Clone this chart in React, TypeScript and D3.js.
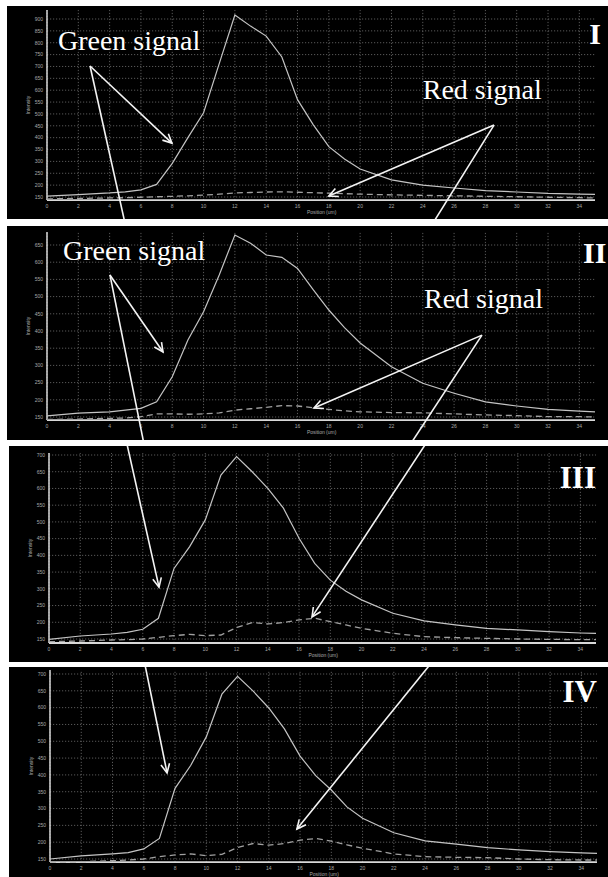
import React from 'react';
import * as d3 from 'd3';

// Shared sample positions (um)
const positions = [0, 2, 4, 5, 6, 7, 8, 9, 10, 11, 12, 13, 14, 15, 16, 17, 18, 19, 20, 22, 24, 26, 28, 30, 32, 34, 35];

// Panel I
const greenI = [154, 160, 167, 172, 180, 203, 292, 400, 505, 712, 917, 870, 828, 740, 560, 455, 362, 310, 268, 222, 200, 188, 177, 171, 165, 162, 161];
const redI = [142, 144, 146, 147, 149, 151, 153, 155, 158, 162, 167, 169, 171, 172, 170, 168, 166, 164, 162, 159, 157, 155, 153, 151, 149, 147, 146];
// Panel II
const greenII = [153, 161, 165, 170, 175, 194, 267, 374, 456, 563, 679, 655, 621, 614, 582, 520, 461, 410, 365, 296, 248, 219, 194, 182, 172, 167, 165];
const redII = [143, 144, 146, 147, 151, 159, 159, 158, 159, 162, 170, 174, 178, 183, 182, 177, 172, 168, 165, 163, 162, 159, 156, 154, 151, 151, 150];
// Panel III
const greenIII = [149, 159, 165, 170, 179, 212, 361, 426, 506, 640, 695, 650, 600, 541, 451, 376, 326, 293, 267, 227, 204, 192, 182, 177, 172, 168, 167];
const redIII = [142, 144, 147, 148, 150, 155, 160, 164, 160, 162, 184, 199, 195, 199, 207, 212, 202, 192, 182, 167, 157, 154, 152, 150, 149, 148, 148];
// Panel IV
const greenIV = [150, 159, 165, 169, 180, 211, 360, 428, 513, 640, 693, 649, 599, 537, 456, 398, 355, 305, 271, 228, 204, 194, 184, 177, 172, 168, 167];
const redIV = [141, 142, 145, 147, 150, 157, 162, 165, 160, 164, 184, 196, 191, 196, 206, 211, 203, 192, 182, 165, 157, 155, 154, 150, 148, 147, 147];

const xTicks = d3.range(0, 35, 2);
const yTicksI = d3.range(150, 901, 50);
const yTicksII = d3.range(150, 651, 50);
const yTicksIII = d3.range(150, 701, 50);
const yTicksIV = d3.range(150, 701, 50);

const panelNames = ['I', 'II', 'III', 'IV'];
const greenText = 'Green signal';
const redText = 'Red signal';
const xTitle = 'Position (um)';
const yTitle = 'Intensity';

// Annotations in data coordinates [position, intensity]
const labelsI = [{ text: greenText, at: [0.7, 769] }, { text: redText, at: [24.0, 563] }];
const labelsII = [{ text: greenText, at: [1.02, 606] }, { text: redText, at: [24.08, 467] }];
const arrowsI = [
  { from: [2.75, 702], to: [7.98, 377], head: true },
  { from: [2.75, 702], to: [4.98, 40], head: false },
  { from: [28.55, 453], to: [18.0, 154], head: true },
  { from: [28.55, 453], to: [24.65, 40], head: false },
];
const arrowsII = [
  { from: [4.02, 563], to: [7.41, 339], head: true },
  { from: [4.02, 563], to: [6.2, 70], head: false },
  { from: [27.78, 388], to: [17.05, 176], head: true },
  { from: [27.78, 388], to: [23.2, 70], head: false },
];
const arrowsIII = [
  { from: [4.93, 745], to: [7.04, 305], head: true },
  { from: [24.27, 745], to: [16.83, 216], head: true },
];
const arrowsIV = [
  { from: [6.08, 727], to: [7.49, 406], head: true },
  { from: [24.3, 727], to: [15.8, 239], head: true },
];

const SERIF = "'Liberation Serif', 'Times New Roman', 'DejaVu Serif', serif";
const SANS = "'Liberation Sans', Arial, 'DejaVu Sans', sans-serif";

const panels = [
  { name: panelNames[0], rect: [7, 6, 608, 219], xr: [47, 595], yd: [150, 900], yr: [197, 19], yMin: 137, yMax: 938,
    yTicks: yTicksI, green: greenI, red: redI, labels: labelsI, arrows: arrowsI, roman: { x: 601, y: 44, size: 30, anchor: 'end' } },
  { name: panelNames[1], rect: [7, 226, 608, 440], xr: [47, 595], yd: [150, 650], yr: [417, 245], yMin: 141, yMax: 688,
    yTicks: yTicksII, green: greenII, red: redII, labels: labelsII, arrows: arrowsII, roman: { x: 583, y: 263, size: 30, anchor: 'start' } },
  { name: panelNames[2], rect: [9, 446, 608, 662], xr: [49, 596], yd: [150, 700], yr: [639, 455], yMin: 138, yMax: 706,
    yTicks: yTicksIII, green: greenIII, red: redIII, labels: [], arrows: arrowsIII, roman: { x: 596, y: 488, size: 31, anchor: 'end' } },
  { name: panelNames[3], rect: [9, 667, 608, 877], xr: [50, 597], yd: [150, 700], yr: [859, 674], yMin: 141, yMax: 712,
    yTicks: yTicksIV, green: greenIV, red: redIV, labels: [], arrows: arrowsIV, roman: { x: 597, y: 702, size: 31, anchor: 'end' } },
];

function Panel({ p, idx }: { p: any; idx: number }) {
  const [rx0, ry0, rx1, ry1] = p.rect;
  const x = d3.scaleLinear().domain([0, 35]).range(p.xr);
  const y = d3.scaleLinear().domain(p.yd).range(p.yr);
  const line = d3.line<number>().x((_, i) => x(positions[i])).y((d) => y(d));
  const yBot = y(p.yMin);
  const yTop = y(p.yMax);
  const clipId = 'clip' + idx;
  const arrowHead = (a: any) => {
    const [fx, fy] = [x(a.from[0]), y(a.from[1])];
    const [tx, ty] = [x(a.to[0]), y(a.to[1])];
    const ang = Math.atan2(ty - fy, tx - fx);
    const L = 10, w = 0.45;
    const p1 = [tx - L * Math.cos(ang - w), ty - L * Math.sin(ang - w)];
    const p2 = [tx - L * Math.cos(ang + w), ty - L * Math.sin(ang + w)];
    return `M${p1[0]},${p1[1]}L${tx},${ty}L${p2[0]},${p2[1]}`;
  };
  return (
    <g>
      <defs>
        <clipPath id={clipId}>
          <rect x={rx0} y={ry0} width={rx1 - rx0} height={ry1 - ry0} />
        </clipPath>
      </defs>
      <rect x={rx0} y={ry0} width={rx1 - rx0} height={ry1 - ry0} fill="#000" />
      <g clipPath={`url(#${clipId})`}>
        {p.yTicks.map((t: number) => (
          <line key={'h' + t} x1={p.xr[0]} x2={p.xr[1]} y1={y(t)} y2={y(t)} stroke="#6e6e6e" strokeWidth={0.8} strokeDasharray="1.2,1.8" />
        ))}
        {xTicks.map((t) => (
          <line key={'v' + t} x1={x(t)} x2={x(t)} y1={yBot} y2={yTop} stroke="#6e6e6e" strokeWidth={0.8} strokeDasharray="1.2,1.8" />
        ))}
        <line x1={p.xr[0]} x2={p.xr[0]} y1={yBot} y2={yTop} stroke="#d8d8d8" strokeWidth={1.5} />
        <line x1={p.xr[0]} x2={p.xr[1]} y1={yBot} y2={yBot} stroke="#d8d8d8" strokeWidth={1.8} />
        {p.yTicks.map((t: number) => (
          <text key={'yl' + t} x={p.xr[0] - 4} y={y(t) + 1.8} fontSize={5} fill="#a8a8a8" textAnchor="end" fontFamily={SANS}>{t}</text>
        ))}
        {xTicks.map((t) => (
          <text key={'xl' + t} x={x(t)} y={yBot + 8} fontSize={5} fill="#a8a8a8" textAnchor="middle" fontFamily={SANS}>{t}</text>
        ))}
        <text x={x(16.6)} y={yBot + 14} fontSize={5} fill="#a8a8a8" fontFamily={SANS}>{xTitle}</text>
        <text transform={`translate(${p.xr[0] - 17},${(yBot + yTop) / 2}) rotate(-90)`} fontSize={5} fill="#a8a8a8" textAnchor="middle" fontFamily={SANS}>{yTitle}</text>
        <path d={line(p.red) || ''} fill="none" stroke="#a0a0a0" strokeWidth={1.3} strokeDasharray="6,4" />
        <path d={line(p.green) || ''} fill="none" stroke="#c4c4c4" strokeWidth={1.2} />
        {p.labels.map((l: any, i: number) => (
          <text key={'lab' + i} x={x(l.at[0])} y={y(l.at[1])} fontSize={28} fill="#fff" style={{ fontFamily: SERIF }}>{l.text}</text>
        ))}
        {p.arrows.map((a: any, i: number) => (
          <g key={'ar' + i}>
            <line x1={x(a.from[0])} y1={y(a.from[1])} x2={x(a.to[0])} y2={y(a.to[1])} stroke="#f4f4f4" strokeWidth={1.6} />
            {a.head && <path d={arrowHead(a)} fill="none" stroke="#f4f4f4" strokeWidth={1.6} />}
          </g>
        ))}
        <text x={p.roman.x} y={p.roman.y} fontSize={p.roman.size} fontWeight="bold" fill="#fff" textAnchor={p.roman.anchor} style={{ fontFamily: SERIF }}>{p.name}</text>
      </g>
    </g>
  );
}

export default function App() {
  return (
    <svg width={608} height={877} style={{ position: 'absolute', left: 0, top: 0, background: '#fff' }}>
      <rect x={0} y={0} width={608} height={877} fill="#fff" />
      {panels.map((p, i) => (
        <Panel key={i} p={p} idx={i} />
      ))}
    </svg>
  );
}
